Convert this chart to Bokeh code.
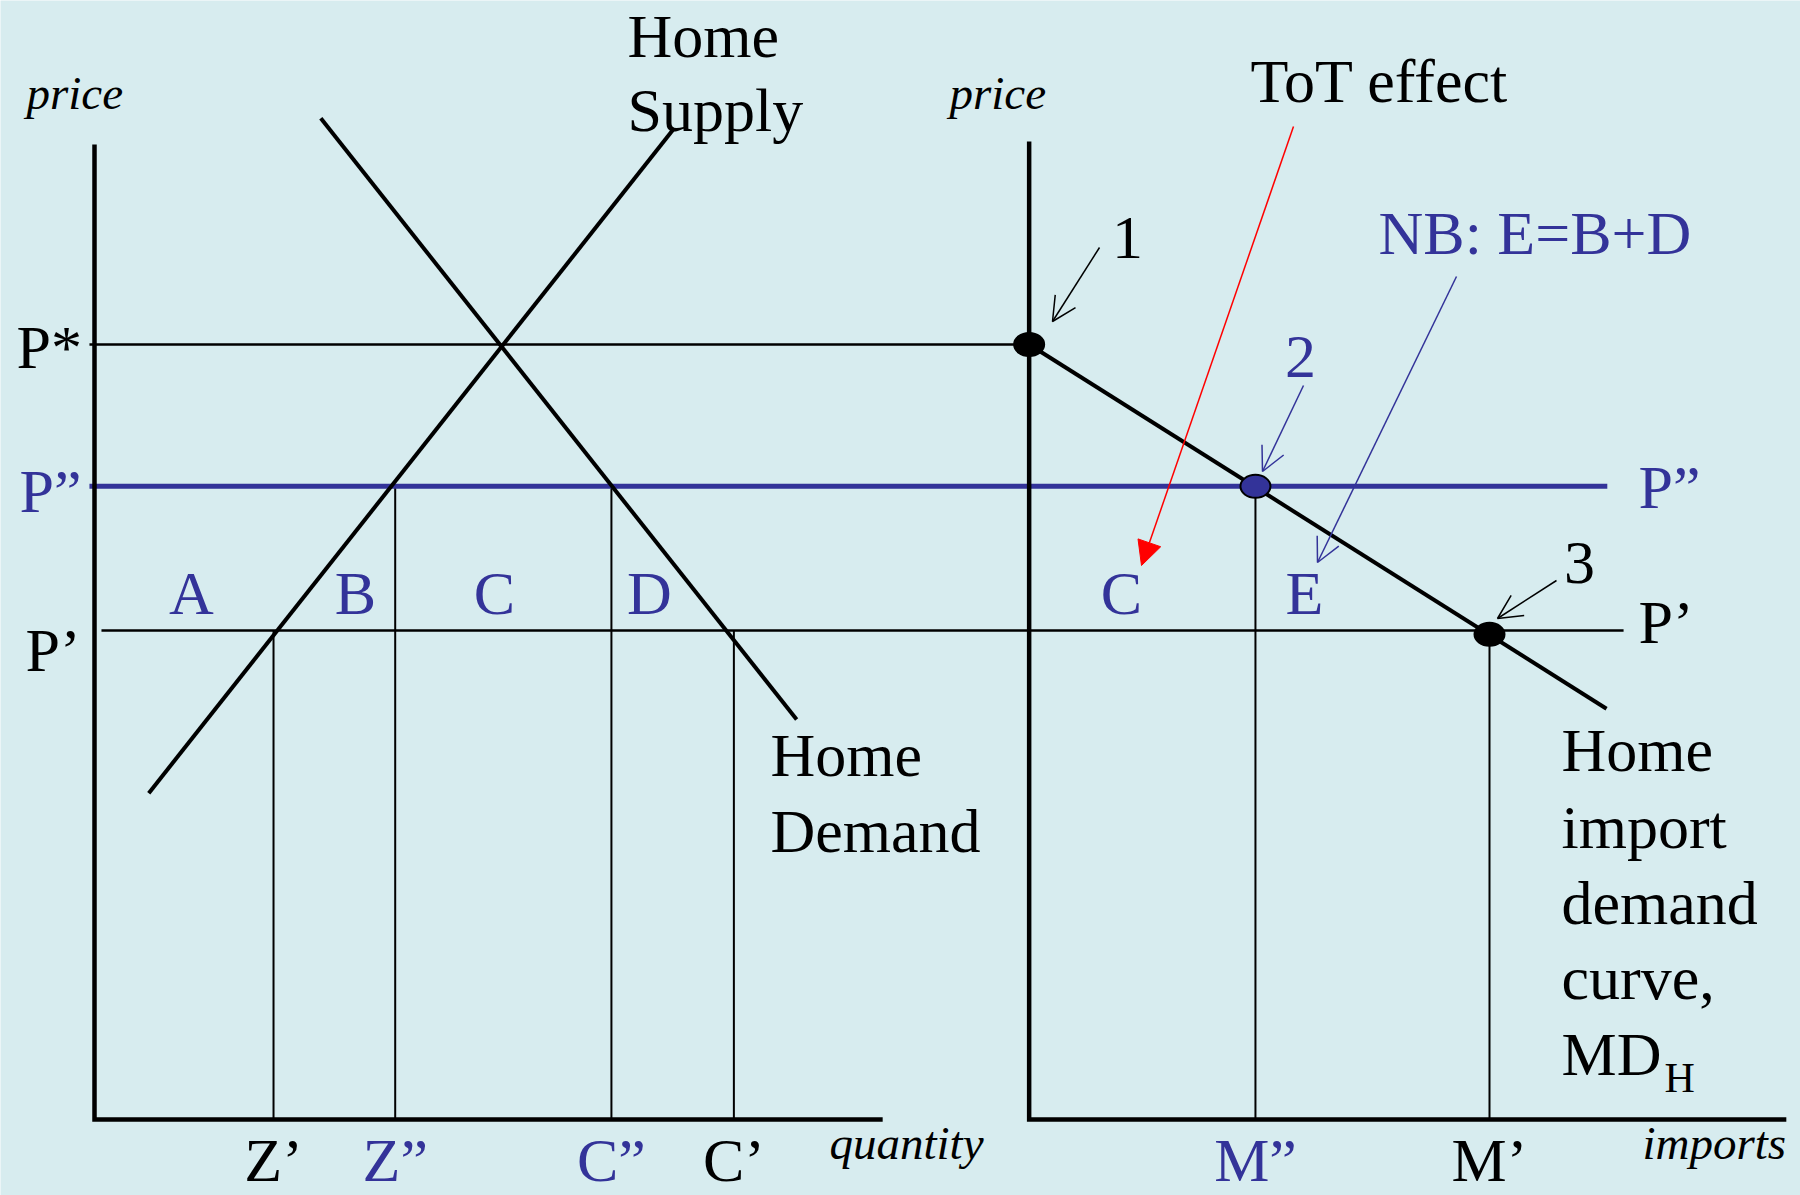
from bokeh.plotting import figure
from bokeh.models import Range1d, Arrow, OpenHead, NormalHead
from bokeh.core.properties import value
from bokeh.embed import file_html
from bokeh.resources import INLINE

BG = "#D7ECEF"
BLUE = "#333399"
RED = "#FF0000"
FONT = "Liberation Serif"

# ---------------- data (diagram units) ----------------
# price levels
P_STAR, P_TARIFF, P_FREE = 10.0, 8.17, 6.31

# left panel: home market
supply_q = [0.70, 7.48]
supply_p = [4.21, 12.79]
demand_q = [2.92, 9.06]
demand_p = [12.92, 5.16]
qty_labels = ["Z’", "Z”", "C”", "C’"]
qty_values = [2.31, 3.88, 6.67, 8.25]
qty_prices = [P_FREE, P_TARIFF, P_TARIFF, P_FREE]
qty_colors = ["black", BLUE, BLUE, "black"]
LEFT_Q_MAX, LEFT_P_MAX = 10.17, 12.58

# right panel: import market
RIGHT_ORIGIN = 12.06
md_m = [0.0, 7.45]
md_p = [10.0, 5.30]
point_labels = ["1", "2", "3"]
point_m = [0.0, 2.92, 5.94]
point_p = [10.0, 8.17, 6.26]
imp_labels = ["M”", "M’"]
imp_values = [2.92, 5.94]
imp_prices = [8.17, 6.26]
imp_colors = [BLUE, "black"]
RIGHT_M_MAX, RIGHT_P_MAX = 9.77, 12.62

# horizontal price lines: extent along x (diagram units)
pstar_span = (-0.065, RIGHT_ORIGIN)
ptariff_span = (-0.065, 19.52)
pfree_span = (0.09, 19.73)

# ---------------- page geometry ----------------
U = 77.5          # px per diagram unit
X0, Y0 = 94, 1119  # page px of the left origin
W, H = 1800, 1195
BASE_SHIFT = 0.37  # renderer baseline offset, in em


def X(px):
    return (px - X0) / U


def Y(py):
    return (Y0 - py) / U


p = figure(width=W, height=H, output_backend="svg", toolbar_location=None,
           x_range=Range1d(X(0), X(W)), y_range=Range1d(Y(H), Y(0)),
           min_border=0, background_fill_color=BG, border_fill_color=BG,
           outline_line_color=None)
p.axis.visible = False
p.grid.visible = False

R = RIGHT_ORIGIN

# price lines
p.segment(x0=[pstar_span[0]], y0=[P_STAR], x1=[pstar_span[1]], y1=[P_STAR],
          line_color="black", line_width=2.5)
p.segment(x0=[pfree_span[0]], y0=[P_FREE], x1=[pfree_span[1]], y1=[P_FREE],
          line_color="black", line_width=2.5)

# vertical quantity drops
p.segment(x0=qty_values, y0=qty_prices, x1=qty_values, y1=[0] * 4,
          line_color="black", line_width=2)
p.segment(x0=[R + m for m in imp_values], y0=imp_prices,
          x1=[R + m for m in imp_values], y1=[0] * 2,
          line_color="black", line_width=2)

# P'' tariff-inclusive line (blue, thick)
p.segment(x0=[ptariff_span[0]], y0=[P_TARIFF], x1=[ptariff_span[1]], y1=[P_TARIFF],
          line_color=BLUE, line_width=5)

# axes
p.line([0, 0, LEFT_Q_MAX], [LEFT_P_MAX, 0, 0], line_color="black", line_width=4.5,
       line_join="miter")
p.line([R, R, R + RIGHT_M_MAX], [RIGHT_P_MAX, 0, 0], line_color="black", line_width=4.5,
       line_join="miter")

# supply & demand
p.line(supply_q, supply_p, line_color="black", line_width=4)
p.line(demand_q, demand_p, line_color="black", line_width=4)
p.line([R + m for m in md_m], md_p, line_color="black", line_width=4)

# points on MD
p.ellipse(x=[R + m for m in point_m], y=point_p, width=30, height=23,
          width_units="screen", height_units="screen",
          fill_color=["black", BLUE, "black"], line_color="black", line_width=2)


# arrows
def arrow(x1, y1, x2, y2, color, head):
    p.add_layout(Arrow(end=head, x_start=X(x1), y_start=Y(y1), x_end=X(x2), y_end=Y(y2),
                       line_color=color, line_width=1.5))


arrow(1099, 247, 1052, 321, "black", OpenHead(size=24, line_color="black", line_width=1.5))
arrow(1303, 385, 1262, 471, BLUE, OpenHead(size=24, line_color=BLUE, line_width=1.5))
arrow(1556, 580, 1497, 618, "black", OpenHead(size=24, line_color="black", line_width=1.5))
arrow(1456, 276, 1317, 562, BLUE, OpenHead(size=24, line_color=BLUE, line_width=1.5))
arrow(1293, 126, 1141, 565, RED, NormalHead(size=24, fill_color=RED, line_color=RED,
                                               line_width=1))


def txt(items, color, size=62, style="normal", align="left"):
    sh = BASE_SHIFT * size
    p.text(x=[X(a) for a, b, c in items], y=[Y(b - sh) for a, b, c in items],
           text=[c for a, b, c in items], text_font=value(FONT),
           text_font_size=f"{size}px", text_font_style=style, text_color=color,
           text_align=align, text_baseline="alphabetic")


# black main labels
txt([(627, 58, "Home"), (627, 132, "Supply"),
     (16, 369, "P*"), (25, 672, "P’"),
     (770, 777, "Home"), (770, 853, "Demand"),
     (1250, 103, "ToT effect"),
     (1638, 644, "P’"),
     (1561, 772, "Home"), (1561, 849, "import"), (1561, 925, "demand"),
     (1561, 1000, "curve,"), (1561, 1076, "MD")], "black")
txt([(1664, 1093, "H")], "black", size=42)

# blue main labels
txt([(19, 513, "P”"), (1638, 509, "P”"), (1378, 255, "NB: E=B+D")], BLUE)

# area labels
txt([(191, 615, "A"), (355, 615, "B"), (494, 615, "C"), (649, 615, "D"),
     (1121, 615, "C"), (1304, 615, "E")], BLUE, align="center")

# point labels
txt([(1127, 260, "1"), (1579, 585, "3")], "black", align="center")
txt([(1300, 379, "2")], BLUE, align="center")

# axis titles
txt([(26, 110, "price"), (949, 110, "price"), (829, 1160, "quantity"),
     (1642, 1160, "imports")], "black", size=47, style="italic")

# quantity tick labels
LABEL_BASE = Y(1182 - BASE_SHIFT * 62)
for lbl, q, c in zip(qty_labels, qty_values, qty_colors):
    p.text(x=[q], y=[LABEL_BASE], text=[lbl], text_font=value(FONT), text_font_size="62px",
           text_color=c, text_align="center", text_baseline="alphabetic")
for lbl, m, c in zip(imp_labels, imp_values, imp_colors):
    p.text(x=[R + m], y=[LABEL_BASE], text=[lbl], text_font=value(FONT), text_font_size="62px",
           text_color=c, text_align="center", text_baseline="alphabetic")

open("out.html", "w").write(file_html(p, INLINE))
